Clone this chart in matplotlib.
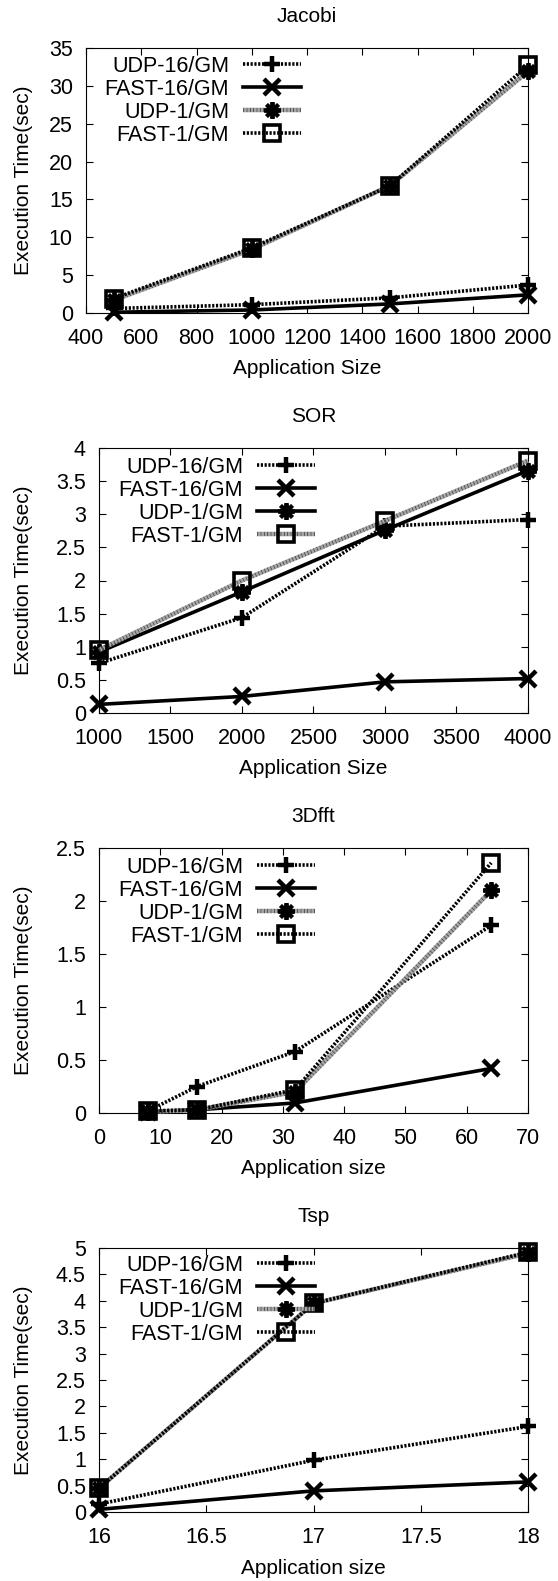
import matplotlib
matplotlib.use('Agg')
import matplotlib.pyplot as plt
from matplotlib.ticker import FormatStrFormatter, MultipleLocator

plt.rcParams['font.family'] = ['Liberation Sans', 'DejaVu Sans']

series_labels = ['UDP-16/GM', 'FAST-16/GM', 'UDP-1/GM', 'FAST-1/GM']

jacobi_x = [500, 1000, 1500, 2000]
jacobi_udp16 = [0.6, 1.1, 2.0, 3.7]
jacobi_fast16 = [0.1, 0.4, 1.2, 2.4]
jacobi_udp1 = [1.7, 8.4, 16.8, 31.9]
jacobi_fast1 = [1.9, 8.6, 16.8, 32.7]

sor_x = [1000, 2000, 3000, 4000]
sor_udp16 = [0.75, 1.44, 2.82, 2.92]
sor_fast16 = [0.13, 0.25, 0.47, 0.52]
sor_udp1 = [0.92, 1.83, 2.76, 3.66]
sor_fast1 = [0.95, 2.0, 2.9, 3.81]

fft_x = [8, 16, 32, 64]
fft_udp16 = [0.02, 0.25, 0.58, 1.77]
fft_fast16 = [0.01, 0.03, 0.095, 0.42]
fft_udp1 = [0.01, 0.03, 0.2, 2.10]
fft_fast1 = [0.02, 0.03, 0.22, 2.36]

tsp_x = [16, 17, 18]
tsp_udp16 = [0.15, 0.98, 1.62]
tsp_fast16 = [0.05, 0.4, 0.57]
tsp_udp1 = [0.45, 3.95, 4.9]
tsp_fast1 = [0.45, 3.95, 4.92]

W, H = 558, 1581
fig = plt.figure(figsize=(W / 100, H / 100), dpi=100)

DOT = dict(color='black', lw=2.6, ls=(0, (0.6, 0.45)))
SOLID = dict(color='black', lw=2.6, ls='-')
GREY = dict(color='#5a5a5a', gapcolor='#a6a6a6', lw=3.2, ls=(0, (0.3, 0.45)))

markers = [
    dict(marker='+', ms=12, mew=3.2, mec='black', mfc='black'),
    dict(marker='x', ms=12, mew=3.2, mec='black', mfc='black'),
    dict(marker=(8, 2, 0), ms=12, mew=2.8, mec='black', mfc='black'),
    dict(marker='s', ms=11, mew=2.6, mec='black', mfc='none'),
]

panels = [
    dict(title='Jacobi', x=jacobi_x, ys=[jacobi_udp16, jacobi_fast16, jacobi_udp1, jacobi_fast1],
         styles=[DOT, SOLID, GREY, DOT], xlim=(400, 2000), xstep=200, ylim=(0, 35), ystep=5,
         xlabel='Application Size', box=(86, 48, 528, 313), leg=(301, 64)),
    dict(title='SOR', x=sor_x, ys=[sor_udp16, sor_fast16, sor_udp1, sor_fast1],
         styles=[DOT, SOLID, SOLID, GREY], xlim=(1000, 4000), xstep=500, ylim=(0, 4), ystep=0.5,
         xlabel='Application Size', box=(99, 448, 528, 713), leg=(315, 465)),
    dict(title='3Dfft', x=fft_x, ys=[fft_udp16, fft_fast16, fft_udp1, fft_fast1],
         styles=[DOT, SOLID, GREY, DOT], xlim=(0, 70), xstep=10, ylim=(0, 2.5), ystep=0.5,
         xlabel='Application size', box=(99, 848, 528, 1113), leg=(315, 865)),
    dict(title='Tsp', x=tsp_x, ys=[tsp_udp16, tsp_fast16, tsp_udp1, tsp_fast1],
         styles=[DOT, SOLID, GREY, DOT], xlim=(16, 18), xstep=0.5, ylim=(0, 5), ystep=0.5,
         xlabel='Application size', box=(99, 1248, 528, 1512), leg=(315, 1263)),
]

FS = 15.5
for p in panels:
    l, t, r, b = p['box']
    aw, ah = r - l, b - t
    ax = fig.add_axes([l / W, (H - b) / H, aw / W, ah / H])
    for y, st, mk, lab in zip(p['ys'], p['styles'], markers, series_labels):
        ax.plot(p['x'], y, label=lab, clip_on=False, zorder=3, **st, **mk)
    ax.set_xlim(*p['xlim'])
    ax.set_ylim(*p['ylim'])
    ax.xaxis.set_major_locator(MultipleLocator(p['xstep']))
    ax.yaxis.set_major_locator(MultipleLocator(p['ystep']))
    ax.xaxis.set_major_formatter(FormatStrFormatter('%g'))
    ax.yaxis.set_major_formatter(FormatStrFormatter('%g'))
    ax.tick_params(direction='in', top=True, right=True, length=5, width=0.8,
                   labelsize=FS)
    ax.tick_params(axis='x', pad=11)
    ax.tick_params(axis='y', pad=9.5)
    for s in ax.spines.values():
        s.set_linewidth(0.8)
    ax.set_xlabel(p['xlabel'], fontsize=15, va='center')
    ax.xaxis.set_label_coords(0.5, -56 / ah)
    ax.set_ylabel('Execution Time(sec)', fontsize=15, va='center')
    ax.yaxis.set_label_coords((24 - l) / aw, 0.5)
    ax.text(0.5, 1 + 31 / ah, p['title'], transform=ax.transAxes, ha='center',
            va='center', fontsize=15)
    lx, ly = p['leg']
    ax.legend(loc='upper right', bbox_to_anchor=((lx - l) / aw, 1 - (ly - 8 - t) / ah),
              frameon=False, markerfirst=False, fontsize=FS, borderpad=0,
              borderaxespad=0, handlelength=2.7, handletextpad=0.65,
              labelspacing=0.09)

fig.savefig('out.png', dpi=100)
